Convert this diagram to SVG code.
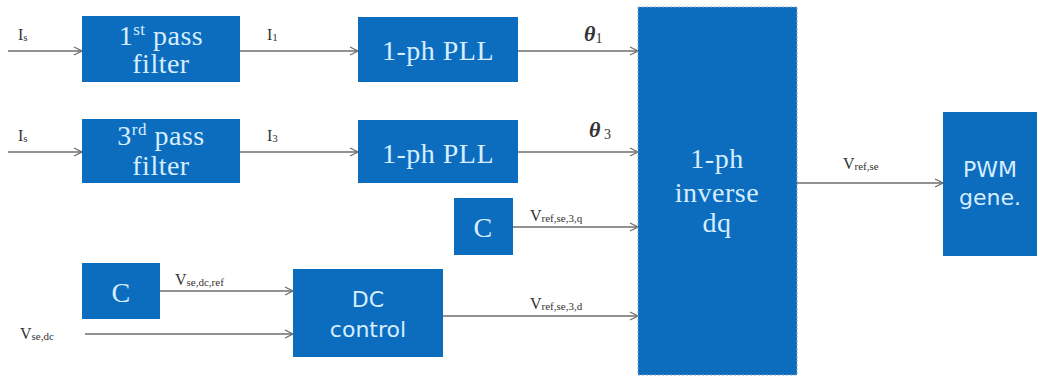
<svg xmlns="http://www.w3.org/2000/svg" width="1039" height="380" viewBox="0 0 1039 380">
<style>
.box{fill:#0c6dbf;}
.bt{fill:#d6eeff;font-family:"Liberation Serif","Times New Roman",serif;font-size:28px;text-anchor:middle;letter-spacing:0.5px;}
.bs{fill:#d6eeff;font-family:"DejaVu Sans",sans-serif;font-size:22px;text-anchor:middle;}
.ln{stroke:#6e6e6e;stroke-width:1.6;fill:none;}
.lb{fill:#333;font-family:"Liberation Serif","Times New Roman",serif;font-size:16px;}
.sub{font-size:11px;}
.th{fill:#333;font-family:"Liberation Serif","Times New Roman",serif;font-size:22px;font-style:italic;font-weight:bold;}
</style>
<defs>
<marker id="arr" markerWidth="10" markerHeight="10" refX="9" refY="5" orient="auto" markerUnits="userSpaceOnUse">
<path d="M1,1 L9,5 L1,9" fill="none" stroke="#6e6e6e" stroke-width="1.3"/>
</marker>
</defs>
<rect width="1039" height="380" fill="#fff"/>

<g id="connectors">
<line class="ln" x1="8" y1="51" x2="82" y2="51" marker-end="url(#arr)"/>
<line class="ln" x1="240" y1="51" x2="358" y2="51" marker-end="url(#arr)"/>
<line class="ln" x1="518" y1="51" x2="638" y2="51" marker-end="url(#arr)"/>
<line class="ln" x1="8" y1="152" x2="82" y2="152" marker-end="url(#arr)"/>
<line class="ln" x1="240" y1="152" x2="358" y2="152" marker-end="url(#arr)"/>
<line class="ln" x1="518" y1="152" x2="638" y2="152" marker-end="url(#arr)"/>
<line class="ln" x1="513" y1="227" x2="638" y2="227" marker-end="url(#arr)"/>
<line class="ln" x1="160" y1="291" x2="293" y2="291" marker-end="url(#arr)"/>
<line class="ln" x1="85" y1="334" x2="293" y2="334" marker-end="url(#arr)"/>
<line class="ln" x1="443" y1="316" x2="638" y2="316" marker-end="url(#arr)"/>
<line class="ln" x1="797" y1="183" x2="943" y2="183" marker-end="url(#arr)"/>
<text class="lb" x="18" y="40" font-family="Liberation Serif, serif">I<tspan class="sub" dy="1">s</tspan></text>
<text class="lb" x="267" y="40" font-family="Liberation Serif, serif">I<tspan class="sub" dy="1">1</tspan></text>
<text class="th" x="584" y="41" font-family="Liberation Serif, serif">θ<tspan font-size="14" font-weight="normal" font-style="normal" dy="2">1</tspan></text>
<text class="lb" x="18" y="141" font-family="Liberation Serif, serif">I<tspan class="sub" dy="1">s</tspan></text>
<text class="lb" x="267" y="141" font-family="Liberation Serif, serif">I<tspan class="sub" dy="1">3</tspan></text>
<text class="th" x="589" y="137" font-family="Liberation Serif, serif">θ<tspan font-size="14" font-weight="normal" font-style="normal" dy="2"> 3</tspan></text>
<text class="lb" x="530" y="221" font-family="Liberation Serif, serif">V<tspan class="sub" dy="1">ref,se,3,q</tspan></text>
<text class="lb" x="530" y="309" font-family="Liberation Serif, serif">V<tspan class="sub" dy="1">ref,se,3,d</tspan></text>
<text class="lb" x="175" y="285" font-family="Liberation Serif, serif">V<tspan class="sub" dy="1">se,dc,ref</tspan></text>
<text class="lb" x="20" y="339" font-family="Liberation Serif, serif">V<tspan class="sub" dy="1">se,dc</tspan></text>
<text class="lb" x="843" y="169" font-family="Liberation Serif, serif">V<tspan class="sub" dy="1">ref,se</tspan></text>
</g>

<g id="filter1">
<rect class="box" x="82" y="16" width="158" height="66"/>
<text class="bt" x="161" y="45" font-family="Liberation Serif, serif">1<tspan font-size="17" dy="-10">st</tspan><tspan dy="10"> pass</tspan></text>
<text class="bt" x="161" y="73" font-family="Liberation Serif, serif">filter</text>
</g>
<g id="filter3">
<rect class="box" x="82" y="119" width="158" height="64"/>
<text class="bt" x="161" y="145" font-family="Liberation Serif, serif">3<tspan font-size="17" dy="-10">rd</tspan><tspan dy="10"> pass</tspan></text>
<text class="bt" x="161" y="175" font-family="Liberation Serif, serif">filter</text>
</g>
<g id="pll1">
<rect class="box" x="358" y="17" width="160" height="65"/>
<text class="bt" x="438" y="60" font-family="Liberation Serif, serif">1-ph PLL</text>
</g>
<g id="pll3">
<rect class="box" x="358" y="120" width="160" height="63"/>
<text class="bt" x="438" y="163" font-family="Liberation Serif, serif">1-ph PLL</text>
</g>
<g id="c_q">
<rect class="box" x="454" y="198" width="59" height="57"/>
<text class="bt" x="483" y="237" font-family="Liberation Serif, serif">C</text>
</g>
<g id="c_dc">
<rect class="box" x="82" y="263" width="78" height="56"/>
<text class="bt" x="121" y="302" font-family="Liberation Serif, serif">C</text>
</g>
<g id="dc_control">
<rect class="box" x="293" y="269" width="150" height="88"/>
<text class="bs" x="368" y="307">DC</text>
<text class="bs" x="368" y="337">control</text>
</g>
<g id="inverse_dq">
<rect class="box" x="638" y="7" width="159" height="368" stroke="#8aa9c8" stroke-width="1" stroke-dasharray="2,2"/>
<text class="bt" x="717" y="168" font-family="Liberation Serif, serif">1-ph</text>
<text class="bt" x="717" y="202" font-family="Liberation Serif, serif">inverse</text>
<text class="bt" x="717" y="232" font-family="Liberation Serif, serif">dq</text>
</g>
<g id="pwm">
<rect class="box" x="943" y="112" width="94" height="144"/>
<text class="bs" x="990" y="177" font-size="24">PWM</text>
<text class="bs" x="990" y="205" font-size="24">gene.</text>
</g>
</svg>
